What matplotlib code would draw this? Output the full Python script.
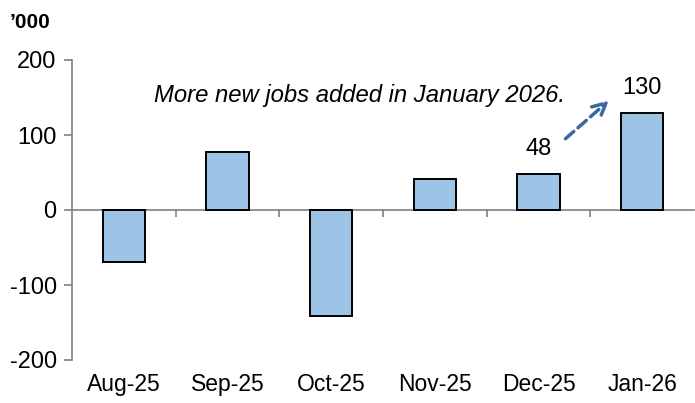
import matplotlib.pyplot as plt
import numpy as np

plt.rcParams['font.family'] = ['Liberation Sans', 'DejaVu Sans']

months = ["Aug-25", "Sep-25", "Oct-25", "Nov-25", "Dec-25", "Jan-26"]
jobs = [-69, 77, -141, 41, 48, 130]
labelled = {4: "48", 5: "130"}

fig = plt.figure(figsize=(6.95, 4.03), dpi=100)
ax = fig.add_axes([72/695, 43/403, 622/695, 300/403])

x = np.arange(len(months))
ax.bar(x, jobs, width=0.41, color="#9dc3e6", edgecolor="black", linewidth=1.4, zorder=3)

ax.set_xlim(-0.5, len(months) - 0.5)
ax.set_ylim(-200, 200)
ax.set_yticks([-200, -100, 0, 100, 200])
ax.set_yticklabels(["-200", "-100", "0", "100", "200"])
ax.tick_params(axis='y', labelsize=17, length=6, color="#808080", width=1.2, pad=5)

for s in ["top", "right"]:
    ax.spines[s].set_visible(False)
ax.spines["left"].set_color("#808080")
ax.spines["left"].set_linewidth(1.2)
ax.spines["bottom"].set_position(("data", 0))
ax.spines["bottom"].set_color("#808080")
ax.spines["bottom"].set_linewidth(1.2)

# ticks at category boundaries on the zero line
ax.set_xticks(np.arange(len(months) - 1) + 0.5)
ax.set_xticklabels([])
ax.tick_params(axis='x', length=5, color="#808080", width=1.2, direction='out')

for i, m in enumerate(months):
    ax.text(i, -233, m, ha='center', va='center', fontsize=16.5)

for i, t in labelled.items():
    ax.text(i, jobs[i] + 33, t, ha='center', va='center', fontsize=17)

ax.text(2.27, 153, "More new jobs added in January 2026.", ha='center', va='center',
        fontsize=17.2, style='italic')
ax.annotate("", xy=(4.68, 146), xytext=(4.26, 95),
            arrowprops=dict(arrowstyle="->", color="#3a68a0", lw=2.5,
                            linestyle=(0, (3.2, 1.6)), mutation_scale=24,
                            shrinkA=0, shrinkB=0))

fig.text(10/695, 1 - 22/403, "\u2019000", ha='left', va='center', fontsize=15, fontweight='bold')

fig.savefig("out.png", dpi=100)
